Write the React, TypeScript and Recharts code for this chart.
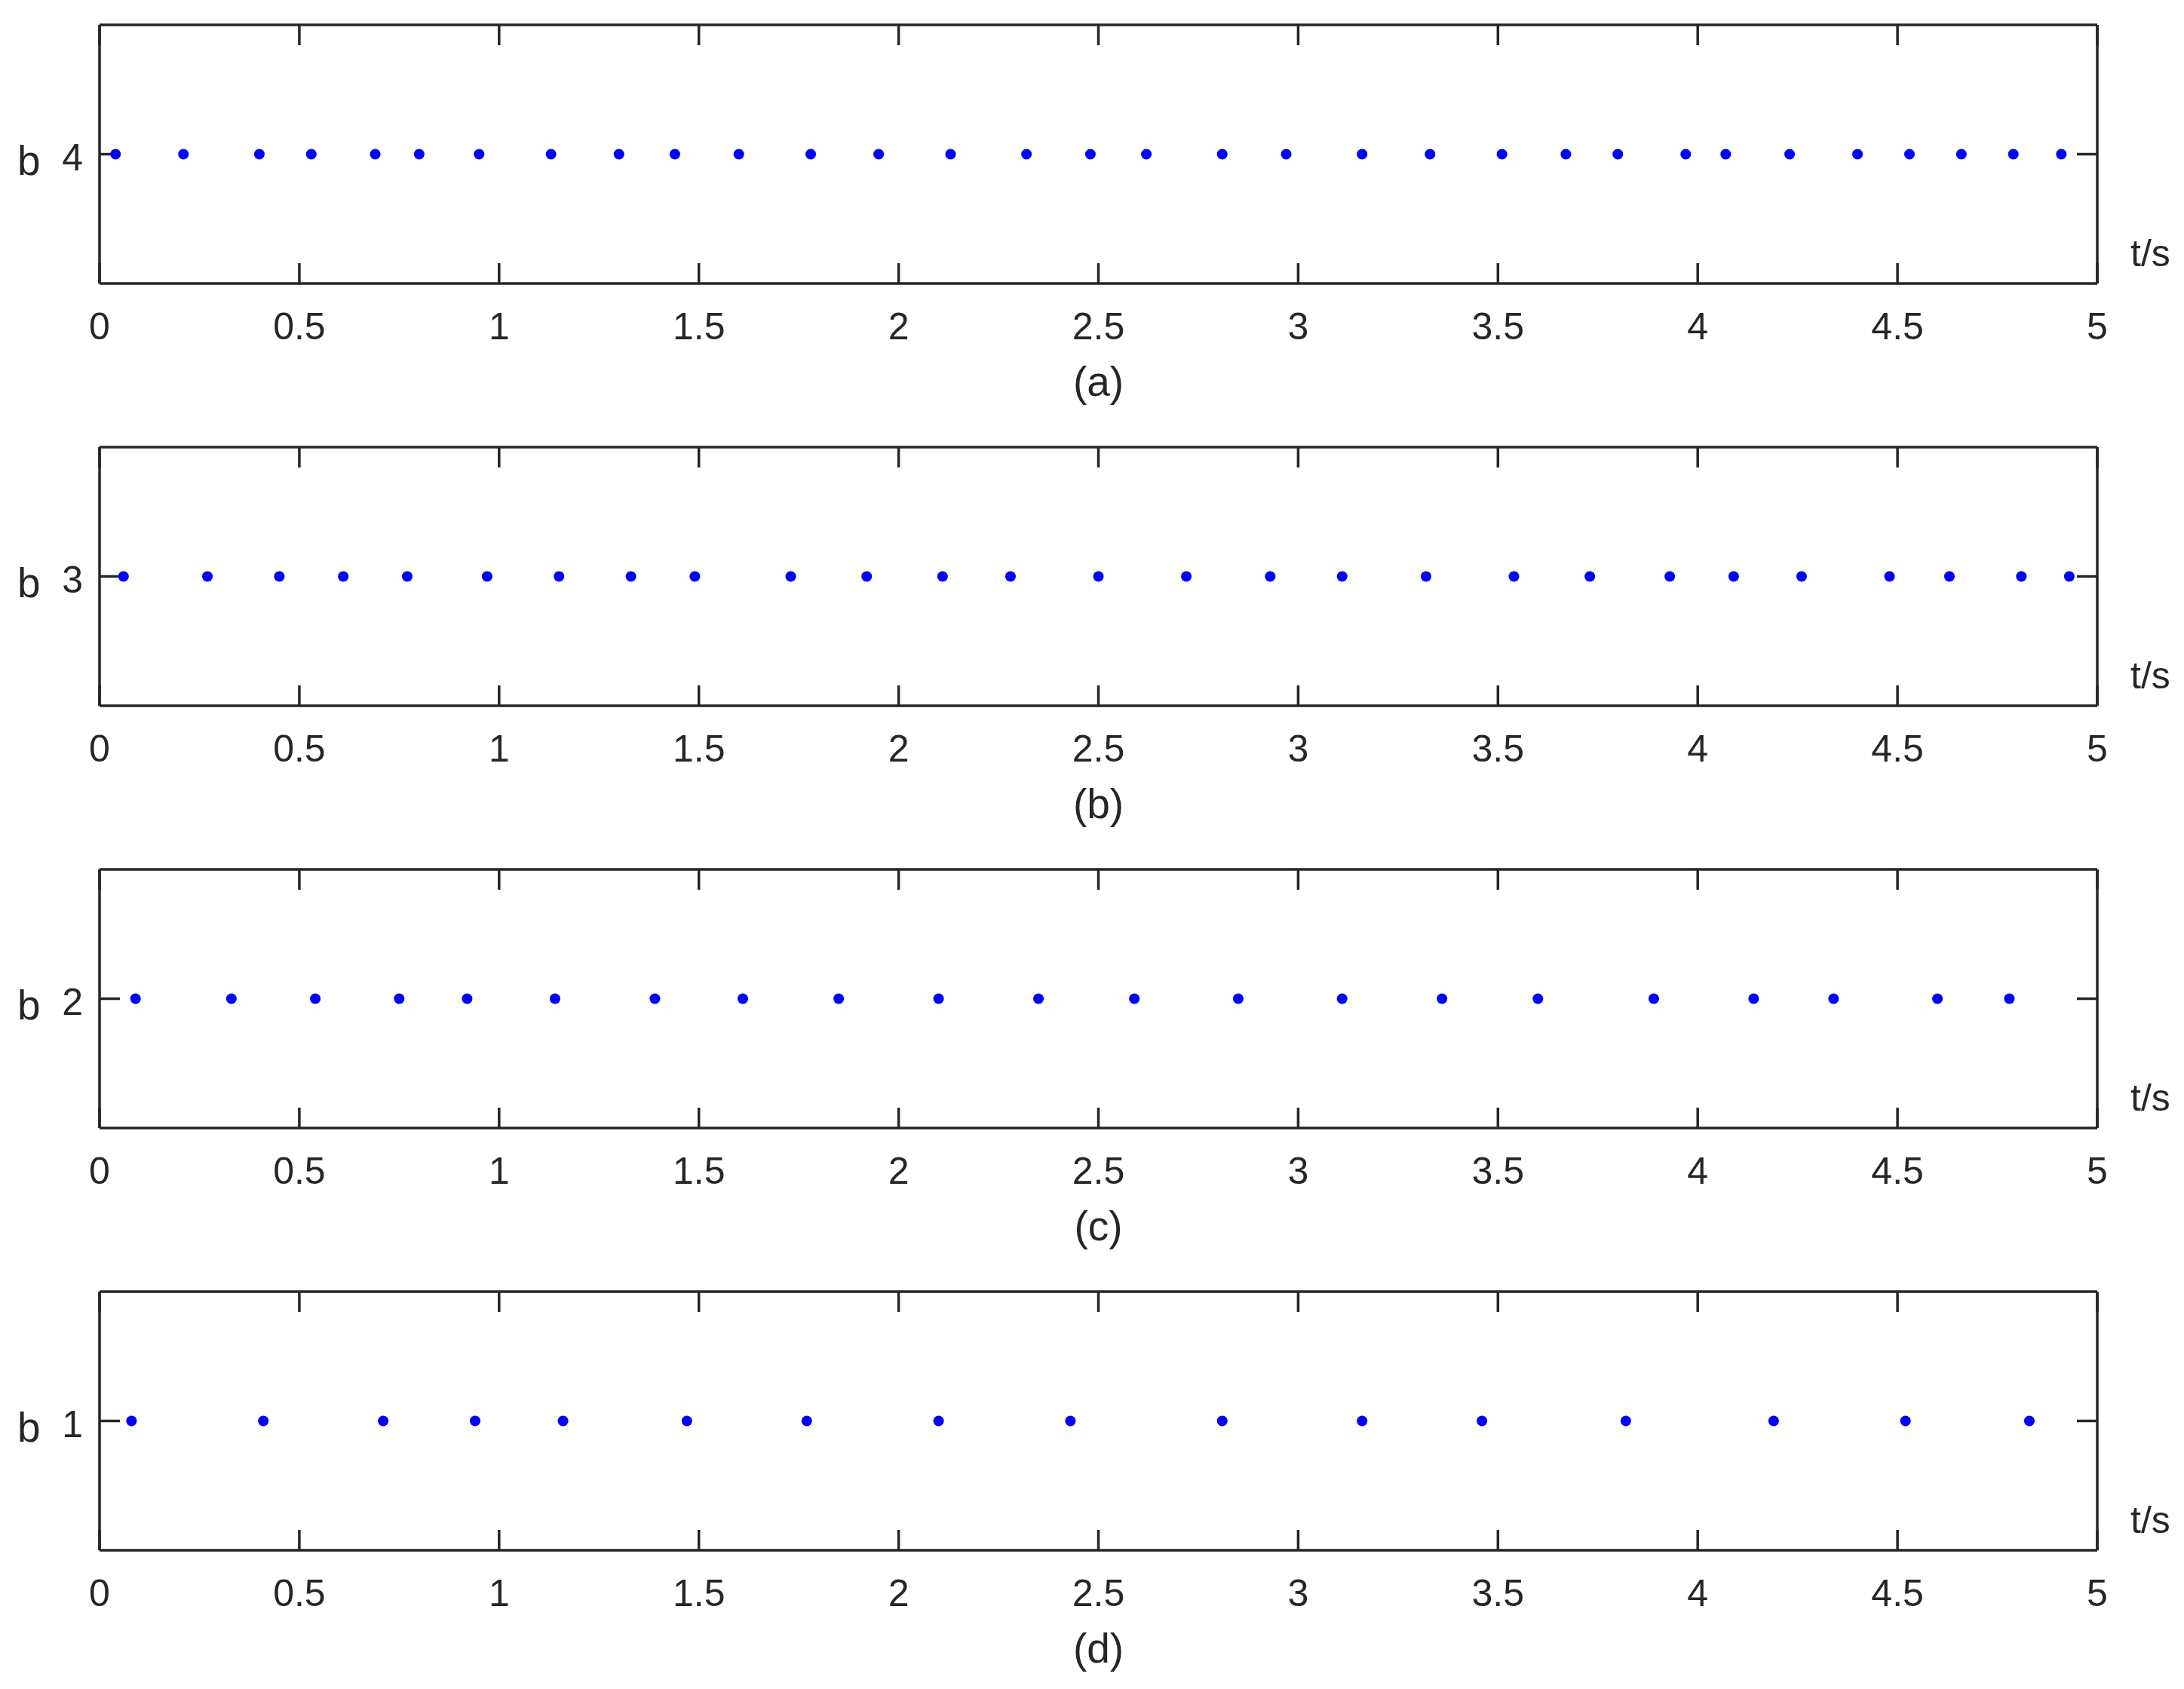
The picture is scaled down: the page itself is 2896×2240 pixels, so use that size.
import React from 'react';
import { ScatterChart, Scatter, XAxis, YAxis } from 'recharts';

// event times (s)
const timesA = [0.04, 0.21, 0.4, 0.53, 0.69, 0.8, 0.95, 1.13, 1.3, 1.44, 1.6, 1.78, 1.95, 2.13, 2.32, 2.48,
  2.62, 2.81, 2.97, 3.16, 3.33, 3.51, 3.67, 3.8, 3.97, 4.07, 4.23, 4.4, 4.53, 4.66, 4.79, 4.91];
const timesB = [0.06, 0.27, 0.45, 0.61, 0.77, 0.97, 1.15, 1.33, 1.49, 1.73, 1.92, 2.11, 2.28, 2.5,
  2.72, 2.93, 3.11, 3.32, 3.54, 3.73, 3.93, 4.09, 4.26, 4.48, 4.63, 4.81, 4.93];
const timesC = [0.09, 0.33, 0.54, 0.75, 0.92, 1.14, 1.39, 1.61, 1.85, 2.1, 2.35,
  2.59, 2.85, 3.11, 3.36, 3.6, 3.89, 4.14, 4.34, 4.6, 4.78];
const timesD = [0.08, 0.41, 0.71, 0.94, 1.16, 1.47, 1.77, 2.1, 2.43,
  2.81, 3.16, 3.46, 3.82, 4.19, 4.52, 4.83];

const levels = [4, 3, 2, 1];
const tags = ['(a)', '(b)', '(c)', '(d)'];
const xTicks = [0, 0.5, 1, 1.5, 2, 2.5, 3, 3.5, 4, 4.5, 5];

const INK = '#262626';
const FONT = '"Liberation Sans", Arial, Helvetica, sans-serif';
const line = { stroke: INK, strokeWidth: 3.5 };
const tickText = { fontSize: 50, fill: INK, fontFamily: FONT };
const blank = () => '';

const Dot = (props: any) => <circle cx={props.cx} cy={props.cy} r={7} fill="#0000ff" />;
// the top/right axes only frame the box, so their series draws nothing
const NoDot = () => <g />;

function Panel({ times, level, tag }: { times: number[]; level: number; tag: string }) {
  const data = times.map((t) => ({ t, b: level }));
  const yDomain = [level - 1, level + 1];
  return (
    <ScatterChart width={2896} height={560} margin={{ top: 0, right: 0, bottom: 0, left: 0 }}>
      <XAxis
        xAxisId="bottom"
        dataKey="t"
        type="number"
        domain={[0, 5]}
        allowDataOverflow
        ticks={xTicks}
        interval={0}
        orientation="bottom"
        height={184}
        tickSize={-27}
        tickMargin={65}
        axisLine={line}
        tickLine={line}
        tick={tickText}
        label={{ value: tag, position: 'insideBottom', offset: 35, fontSize: 55, fill: INK, fontFamily: FONT }}
      />
      <XAxis
        xAxisId="top"
        dataKey="t"
        type="number"
        domain={[0, 5]}
        allowDataOverflow
        ticks={xTicks}
        interval={0}
        orientation="top"
        height={33}
        tickSize={-27}
        axisLine={line}
        tickLine={line}
        tickFormatter={blank}
      />
      <YAxis
        yAxisId="left"
        dataKey="b"
        type="number"
        domain={yDomain}
        allowDataOverflow
        ticks={[level]}
        interval={0}
        width={132}
        tickSize={-27}
        tickMargin={49}
        axisLine={line}
        tickLine={line}
        tick={{ ...tickText, dy: 4 }}
        label={{ value: 'b', position: 'insideLeft', offset: 23, dy: 8, fontSize: 55, fill: INK, fontFamily: FONT }}
      />
      <YAxis
        yAxisId="right"
        dataKey="b"
        type="number"
        domain={yDomain}
        allowDataOverflow
        ticks={[level]}
        interval={0}
        orientation="right"
        width={115}
        tickSize={-27}
        axisLine={line}
        tickLine={line}
        tickFormatter={blank}
        label={{ value: 't/s', position: 'insideBottomLeft', offset: 44, dy: 21, fontSize: 50, fill: INK, fontFamily: FONT }}
      />
      <Scatter xAxisId="top" yAxisId="right" data={data} shape={NoDot} isAnimationActive={false} />
      <Scatter xAxisId="bottom" yAxisId="left" data={data} shape={Dot} isAnimationActive={false} />
    </ScatterChart>
  );
}

export default function App() {
  const series = [timesA, timesB, timesC, timesD];
  return (
    <div style={{ position: 'absolute', left: 0, top: 0, width: 2896, height: 2240, background: '#fff' }}>
      {series.map((times, i) => (
        <div key={tags[i]} style={{ position: 'absolute', left: 0, top: i * 560 }}>
          <Panel times={times} level={levels[i]} tag={tags[i]} />
        </div>
      ))}
    </div>
  );
}
